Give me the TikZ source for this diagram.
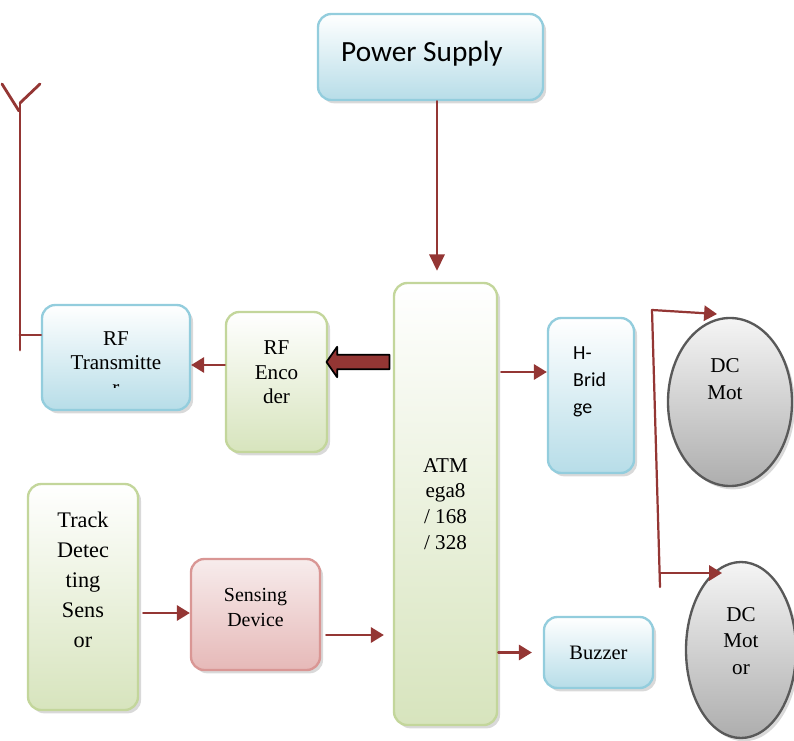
\documentclass[tikz,border=0pt]{standalone}
\usepackage{fontspec}
\setmainfont{Liberation Serif}
\newfontfamily\carlito{Carlito}
\usetikzlibrary{arrows.meta,shapes.geometric,shapes.arrows,shadows}

\definecolor{linkred}{HTML}{943634}
\definecolor{bluedraw}{HTML}{93CDDD}
\definecolor{bluefill}{HTML}{B7DDE8}
\definecolor{greendraw}{HTML}{C3D69B}
\definecolor{greenfill}{HTML}{D7E4BD}
\definecolor{reddraw}{HTML}{D99694}
\definecolor{redtop}{HTML}{F7ECEC}
\definecolor{redfill}{HTML}{E6B9B8}
\definecolor{motordraw}{HTML}{595959}

\tikzset{
  block/.style={rectangle, rounded corners=0.4cm, line width=2pt, align=center, inner sep=0pt,
    drop shadow={shadow xshift=0.09cm, shadow yshift=-0.1cm, opacity=0.3}},
  bluebox/.style={block, draw=bluedraw, top color=white, bottom color=bluefill},
  greenbox/.style={block, draw=greendraw, top color=white, bottom color=greenfill},
  redbox/.style={block, draw=reddraw, top color=redtop, bottom color=redfill},
  motor/.style={ellipse, draw=motordraw, line width=2pt, inner sep=0pt,
    top color=black!4, bottom color=black!32,
    drop shadow={shadow xshift=0.09cm, shadow yshift=-0.1cm, opacity=0.3}},
  txt/.style={align=center, font=\fontsize{18}{22}\selectfont},
  link/.style={draw=linkred, line width=1.9pt, -{Triangle[length=11pt,width=13pt]}},
  wire/.style={draw=linkred, line width=1.9pt},
}

\begin{document}
\begin{tikzpicture}[x=0.03cm,y=-0.03cm,line cap=round,line join=round]
  \useasboundingbox (0,0) rectangle (794,741);

  % blocks
  \node[bluebox, minimum width=6.75cm, minimum height=2.58cm,
    label={[font=\carlito\fontsize{25}{30}\selectfont, xshift=-0.255cm, yshift=0.1cm]center:Power Supply}]
    (power) at (430.5,57) {};
  \node[bluebox, minimum width=4.44cm, minimum height=3.15cm] (rftx) at (116,357.5) {};
  \begin{scope}
    \clip (40,300) rectangle (195,387);
    \node[txt, font=\fontsize{18}{21}\selectfont, yshift=-0.165cm] (rftxtext) at (rftx) {RF\\Transmitte\\r};
  \end{scope}
  \node[greenbox, minimum width=3.03cm, minimum height=4.2cm,
    label={[txt, font=\fontsize{18}{21}\selectfont, yshift=0.285cm]center:RF\\Enco\\der}]
    (rfenc) at (276.5,382) {};
  \node[greenbox, minimum width=3.09cm, minimum height=13.26cm, txt] (atm) at (445.5,504)
    {ATM\\ega8\\/ 168\\/ 328};
  \node[bluebox, minimum width=2.58cm, minimum height=4.65cm] (hbr) at (591,395.5) {};
  \node[anchor=west, align=left, inner sep=0pt, font=\carlito\fontsize{17}{23}\selectfont]
    (hbrtext) at (573,382) {H-\\Brid\\ge};
  \node[bluebox, minimum width=3.27cm, minimum height=2.13cm, txt, font=\fontsize{17.5}{21}\selectfont]
    (buzz) at (598.5,652.5) {Buzzer};
  \node[motor, minimum width=3.72cm, minimum height=5.04cm,
    label={[txt, font=\fontsize{18}{23}\selectfont, xshift=-0.15cm, yshift=0.7cm]center:DC\\Mot}]
    (mot1) at (730,402) {};
  \node[motor, minimum width=3.3cm, minimum height=5.28cm,
    label={[txt, font=\fontsize{18}{22.5}\selectfont, yshift=0.27cm]center:DC\\Mot\\or}]
    (mot2) at (741,650) {};
  \node[greenbox, minimum width=3.3cm, minimum height=6.78cm,
    label={[txt, font=\fontsize{19}{25.5}\selectfont, yshift=0.51cm]center:Track\\Detec\\ting\\Sens\\or}]
    (track) at (83,597) {};
  \node[redbox, minimum width=3.87cm, minimum height=3.33cm,
    label={[txt, font=\fontsize{17}{21}\selectfont, yshift=0.21cm]center:Sensing\\Device}]
    (sense) at (255.5,614.5) {};

  % thick arrow to the encoder
  \node[single arrow, shape border rotate=180, draw=black, line width=1.5pt, fill=linkred,
    inner xsep=0pt, inner ysep=0.19cm, minimum height=1.89cm,
    single arrow head extend=0.24cm, single arrow tip angle=110] (encarrow) at (360.5,362) {};

  % connectors
  \draw[link, -{Triangle[length=14pt,width=13pt]}, shorten >=0.33cm]
    ([xshift=0.195cm]power.south) -- ([xshift=0.195cm]power.south |- atm.north);
  \coordinate (hbrin) at ([yshift=0.705cm]hbr.west);
  \draw[link, shorten <=0.09cm] (hbrin -| atm.east) -- (hbrin);
  \draw[link, shorten >=0.33cm] (buzz.west -| atm.east) -- (buzz.west);
  \coordinate (senseout) at ([yshift=-0.615cm]sense.east);
  \draw[link, shorten <=0.15cm, shorten >=0.27cm] (senseout) -- (senseout -| atm.west);
  \coordinate (trackout) at ([yshift=-0.48cm]track.east);
  \draw[link, shorten <=0.12cm] (trackout) -- (trackout -| sense.west);
  \coordinate (encout) at ([yshift=0.51cm]rfenc.west);
  \draw[link] (encout) -- (encout -| rftx.east);

  % motor feed
  \coordinate (bustop) at (652,310);
  \coordinate (busbot) at (660,587);
  \coordinate (m1in) at (717,314);
  \coordinate (m2in) at (722,573);
  \draw[wire] (bustop) -- (busbot);
  \draw[link] (bustop) -- (m1in);
  \draw[link] (m2in -| busbot) -- (m2in);

  % antenna
  \coordinate (anttop) at (20,103);
  \coordinate (antbot) at (20,350);
  \coordinate (antfeed) at ([yshift=0.675cm]rftx.west);
  \draw[wire, line width=2.4pt] (anttop) -- (antbot);
  \draw[wire, line width=2.4pt] (antfeed -| antbot) -- (antfeed);
  \draw[wire, line width=2.4pt] (2,84) -- (19,111);
  \draw[wire, line width=2.4pt] (anttop) -- (40,84);
\end{tikzpicture}
\end{document}
